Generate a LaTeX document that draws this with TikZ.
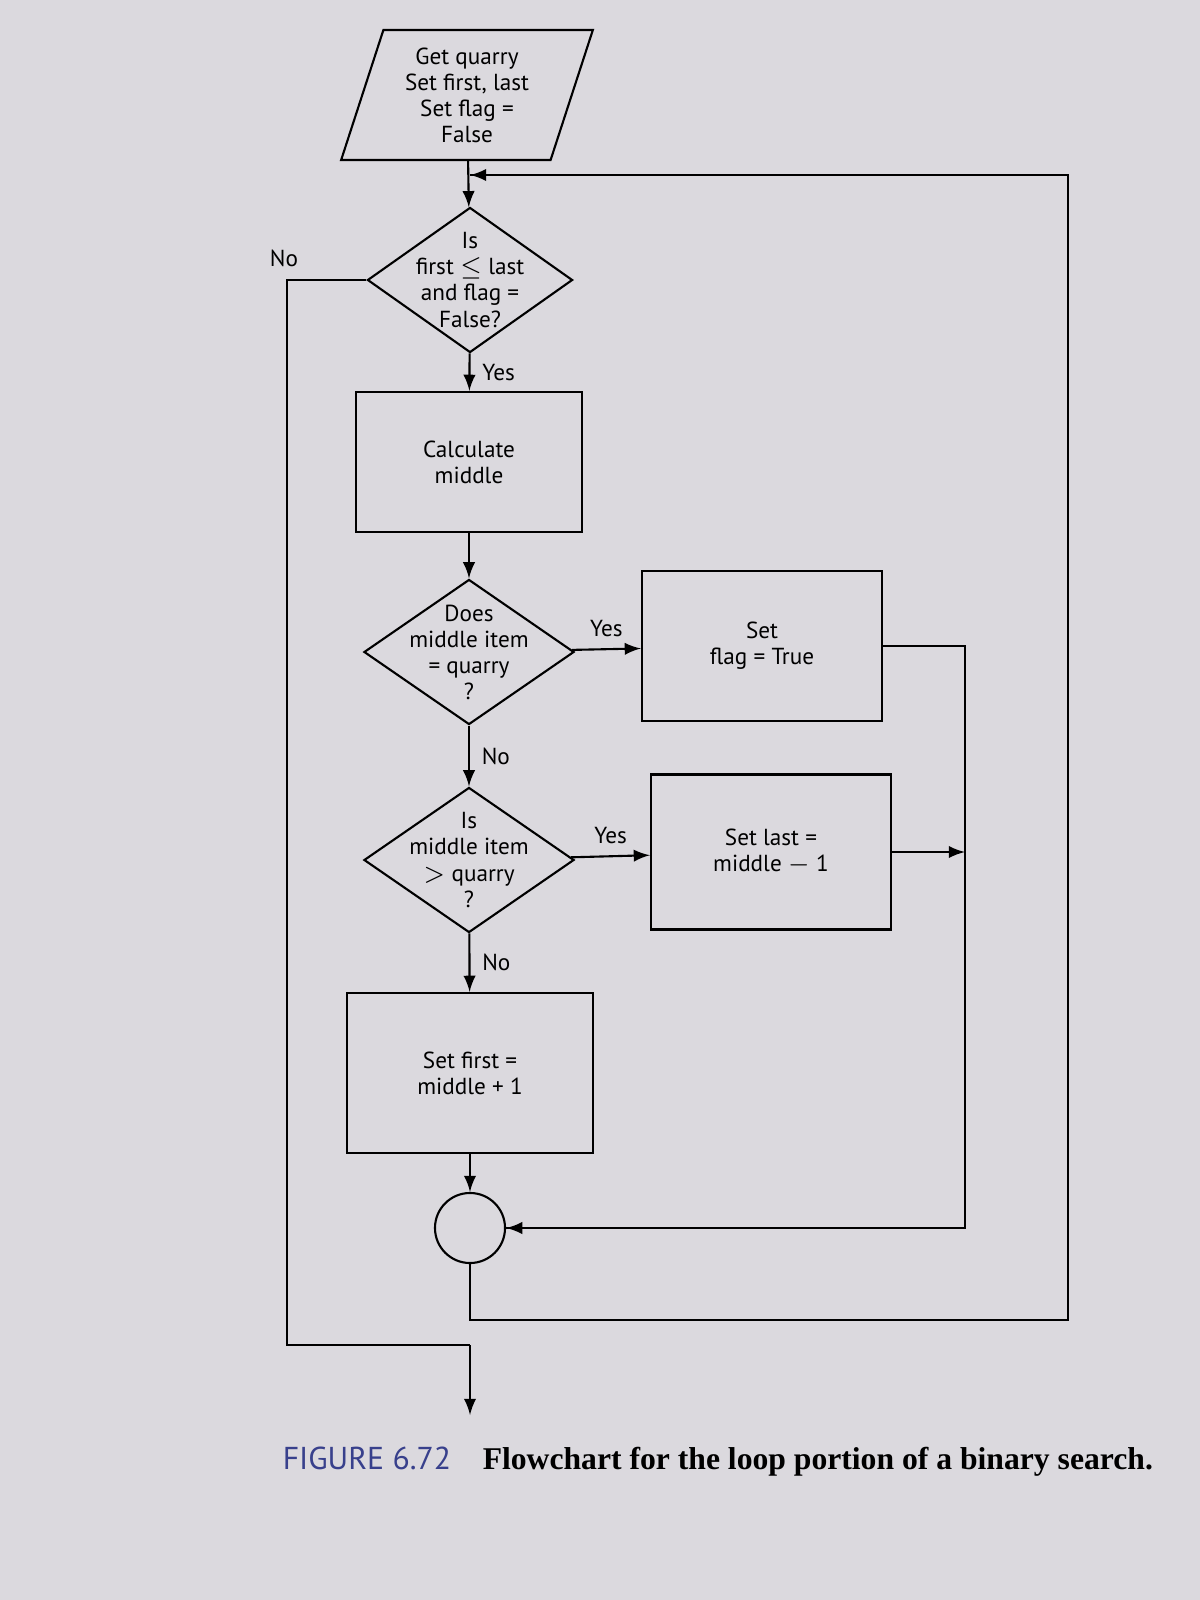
\documentclass[tikz,border=0pt]{standalone}
\usepackage{fontspec}
\setmainfont{PT Sans}
\newfontfamily\capserif{Liberation Serif}
\usetikzlibrary{arrows,shapes.geometric,positioning}
\definecolor{paper}{rgb}{0.86,0.85,0.87}
\definecolor{figblue}{rgb}{0.22,0.25,0.55}

\begin{document}
\begin{tikzpicture}[-,semithick,x=0.01cm,y=-0.01cm,
                    every node/.style={font=\fontsize{6.6}{7.4}\selectfont,align=center},
                    box/.style={rectangle,draw,minimum width=2.25cm,minimum height=1.4cm},
                    test/.style={diamond,draw,aspect=1.4,inner sep=-3pt,minimum width=2.05cm,minimum height=1.45cm},
                    io/.style={trapezium,draw,trapezium left angle=72,trapezium right angle=108,inner sep=1pt,minimum width=1.3cm,minimum height=1.3cm},
                    flow/.style={-latex}]
  \fill[paper] (0,0) rectangle (1200,1600);
  \useasboundingbox (0,0) rectangle (1200,1600);

  \node[io] (start) at (467,95) {Get quarry\\Set first, last\\Set flag =\\False};
  \node[test] (loop) at (470,280) {Is\\first $\le$ last\\and flag =\\False?};
  \node[box] (calc) at (469,462) {Calculate\\middle};
  \node[test,minimum width=2.1cm] (equal) at (469,652) {Does\\middle item\\= quarry\\?};
  \node[box,minimum width=2.4cm,minimum height=1.5cm] (found) at (762,646) {Set\\flag = True};
  \node[test,minimum width=2.1cm] (greater) at (469,860) {Is\\middle item\\$>$ quarry\\?};
  \node[box,minimum width=2.4cm,minimum height=1.55cm] (setlast) at (771,852) {Set last =\\middle $-$ 1};
  \node[box,minimum width=2.45cm,minimum height=1.6cm] (setfirst) at (470,1073) {Set first =\\middle + 1};
  \node[circle,draw,minimum size=0.7cm] (join) at (470,1228) {};

  \coordinate (top) at (470,175);
  \coordinate (back) at (1068,175);
  \coordinate (noleft) at (287,280);
  \coordinate (exit) at (470,1345);
  \coordinate (stop) at (470,1415);
  \coordinate (rail) at (965,646);

  \draw[flow] (start) -- (loop);
  \path[flow]
    (loop) edge node[right] {Yes} (calc)
    (calc) edge (equal)
    (equal) edge node[above] {Yes} (found)
    (equal) edge node[right] {No} (greater)
    (greater) edge node[above] {Yes} (setlast)
    (greater) edge node[right] {No} (setfirst)
    (setfirst) edge (join)
    (setlast) edge (setlast.east -| rail);
  \draw (found) -- (rail) |- (join);
  \draw[flow] (rail |- join) -- (join);
  \draw (join) -- (470,1320) -| (back) -- (top);
  \draw[flow] (back) -- (top);
  \draw (loop) -- node[above left,pos=0.7] {No} (noleft) |- (exit);
  \draw[flow] (exit) -- (stop);

  \node[anchor=west,font=\fontsize{9}{10}\selectfont] (caption) at (270,1462)
    {{\color{figblue}FIGURE 6.72}\quad{\capserif\bfseries Flowchart for the loop portion of a binary search.}};
\end{tikzpicture}
\end{document}
